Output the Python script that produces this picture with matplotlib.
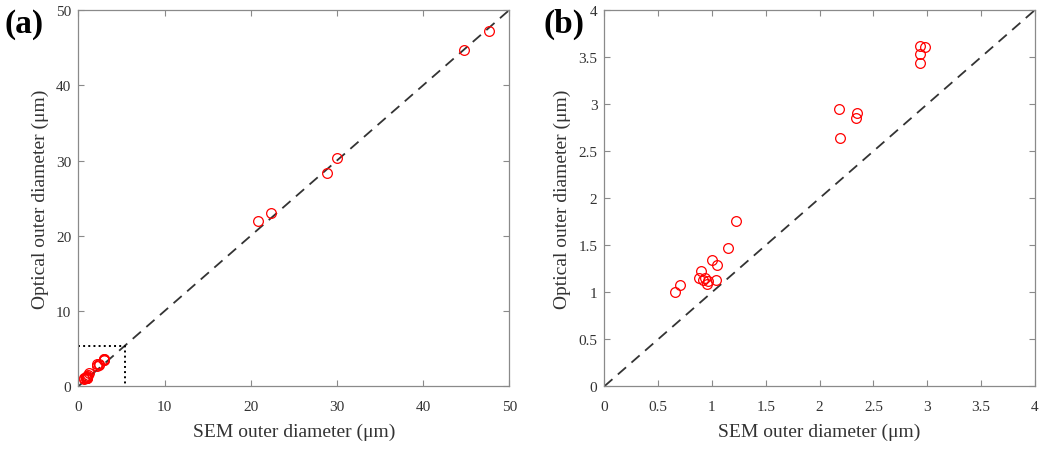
import matplotlib
matplotlib.use("Agg")
import matplotlib.pyplot as plt
import numpy as np

plt.rcParams['font.family'] = ['Liberation Serif', 'DejaVu Serif']

# SEM vs optical outer diameter (um)
sem_small = [0.66, 0.70, 0.90, 0.88, 0.94, 0.95, 0.92, 0.96, 1.04, 1.00, 1.05, 1.15, 1.22,
             2.18, 2.19, 2.35, 2.34, 2.93, 2.98, 2.93, 2.93]
opt_small = [1.00, 1.08, 1.23, 1.15, 1.15, 1.09, 1.13, 1.12, 1.13, 1.34, 1.29, 1.47, 1.76,
             2.95, 2.64, 2.91, 2.85, 3.62, 3.61, 3.53, 3.44]
sem_large = [20.8, 22.3, 28.8, 30.0, 44.7, 47.6]
opt_large = [22.0, 23.0, 28.4, 30.3, 44.7, 47.2]

sem_all = sem_small + sem_large
opt_all = opt_small + opt_large
zoom_box = 5.4

fig = plt.figure(figsize=(10.5, 4.52), dpi=100)
ax1 = fig.add_axes([0.0746, 0.1431, 0.4105, 0.8326])
ax2 = fig.add_axes([0.5755, 0.1431, 0.4102, 0.8326])

txt = '#333333'
spine = '#8a8a8a'

def style(ax):
    for s in ax.spines.values():
        s.set_color(spine)
        s.set_linewidth(0.9)
    ax.tick_params(direction='in', top=True, right=True, colors=spine,
                   labelcolor=txt, labelsize=11, length=4)
    ax.tick_params(axis='x', pad=10)
    ax.tick_params(axis='y', pad=5)
    ax.set_xlabel('SEM outer diameter (μm)', fontsize=14, color=txt, labelpad=7)
    ax.set_ylabel('Optical outer diameter (μm)', fontsize=14, color=txt, labelpad=5)

# (a)
ax1.plot([0, 50], [0, 50], '--', color='#333333', lw=1.3, dashes=(6, 4))
ax1.plot(sem_all, opt_all, 'o', mfc='none', mec='red', ms=7, mew=0.9)
ax1.plot([0, zoom_box, zoom_box], [zoom_box, zoom_box, 0], ':', color='black', lw=1.4)
ax1.set_xlim(0, 50)
ax1.set_ylim(0, 50)
ax1.set_xticks(np.arange(0, 51, 10))
ax1.set_yticks(np.arange(0, 51, 10))
style(ax1)

# (b)
ax2.plot([0, 4], [0, 4], '--', color='#333333', lw=1.3, dashes=(6, 4))
ax2.plot(sem_small, opt_small, 'o', mfc='none', mec='red', ms=7, mew=0.9)
ax2.set_xlim(0, 4)
ax2.set_ylim(0, 4)
ticks = np.arange(0, 4.01, 0.5)
labels = ['0', '0.5', '1', '1.5', '2', '2.5', '3', '3.5', '4']
ax2.set_xticks(ticks, labels)
ax2.set_yticks(ticks, labels)
style(ax2)

fig.text(0.004, 0.98, '(a)', fontsize=24, fontweight='bold', va='top', ha='left')
fig.text(0.518, 0.98, '(b)', fontsize=24, fontweight='bold', va='top', ha='left')

fig.savefig('out.png', dpi=100)
